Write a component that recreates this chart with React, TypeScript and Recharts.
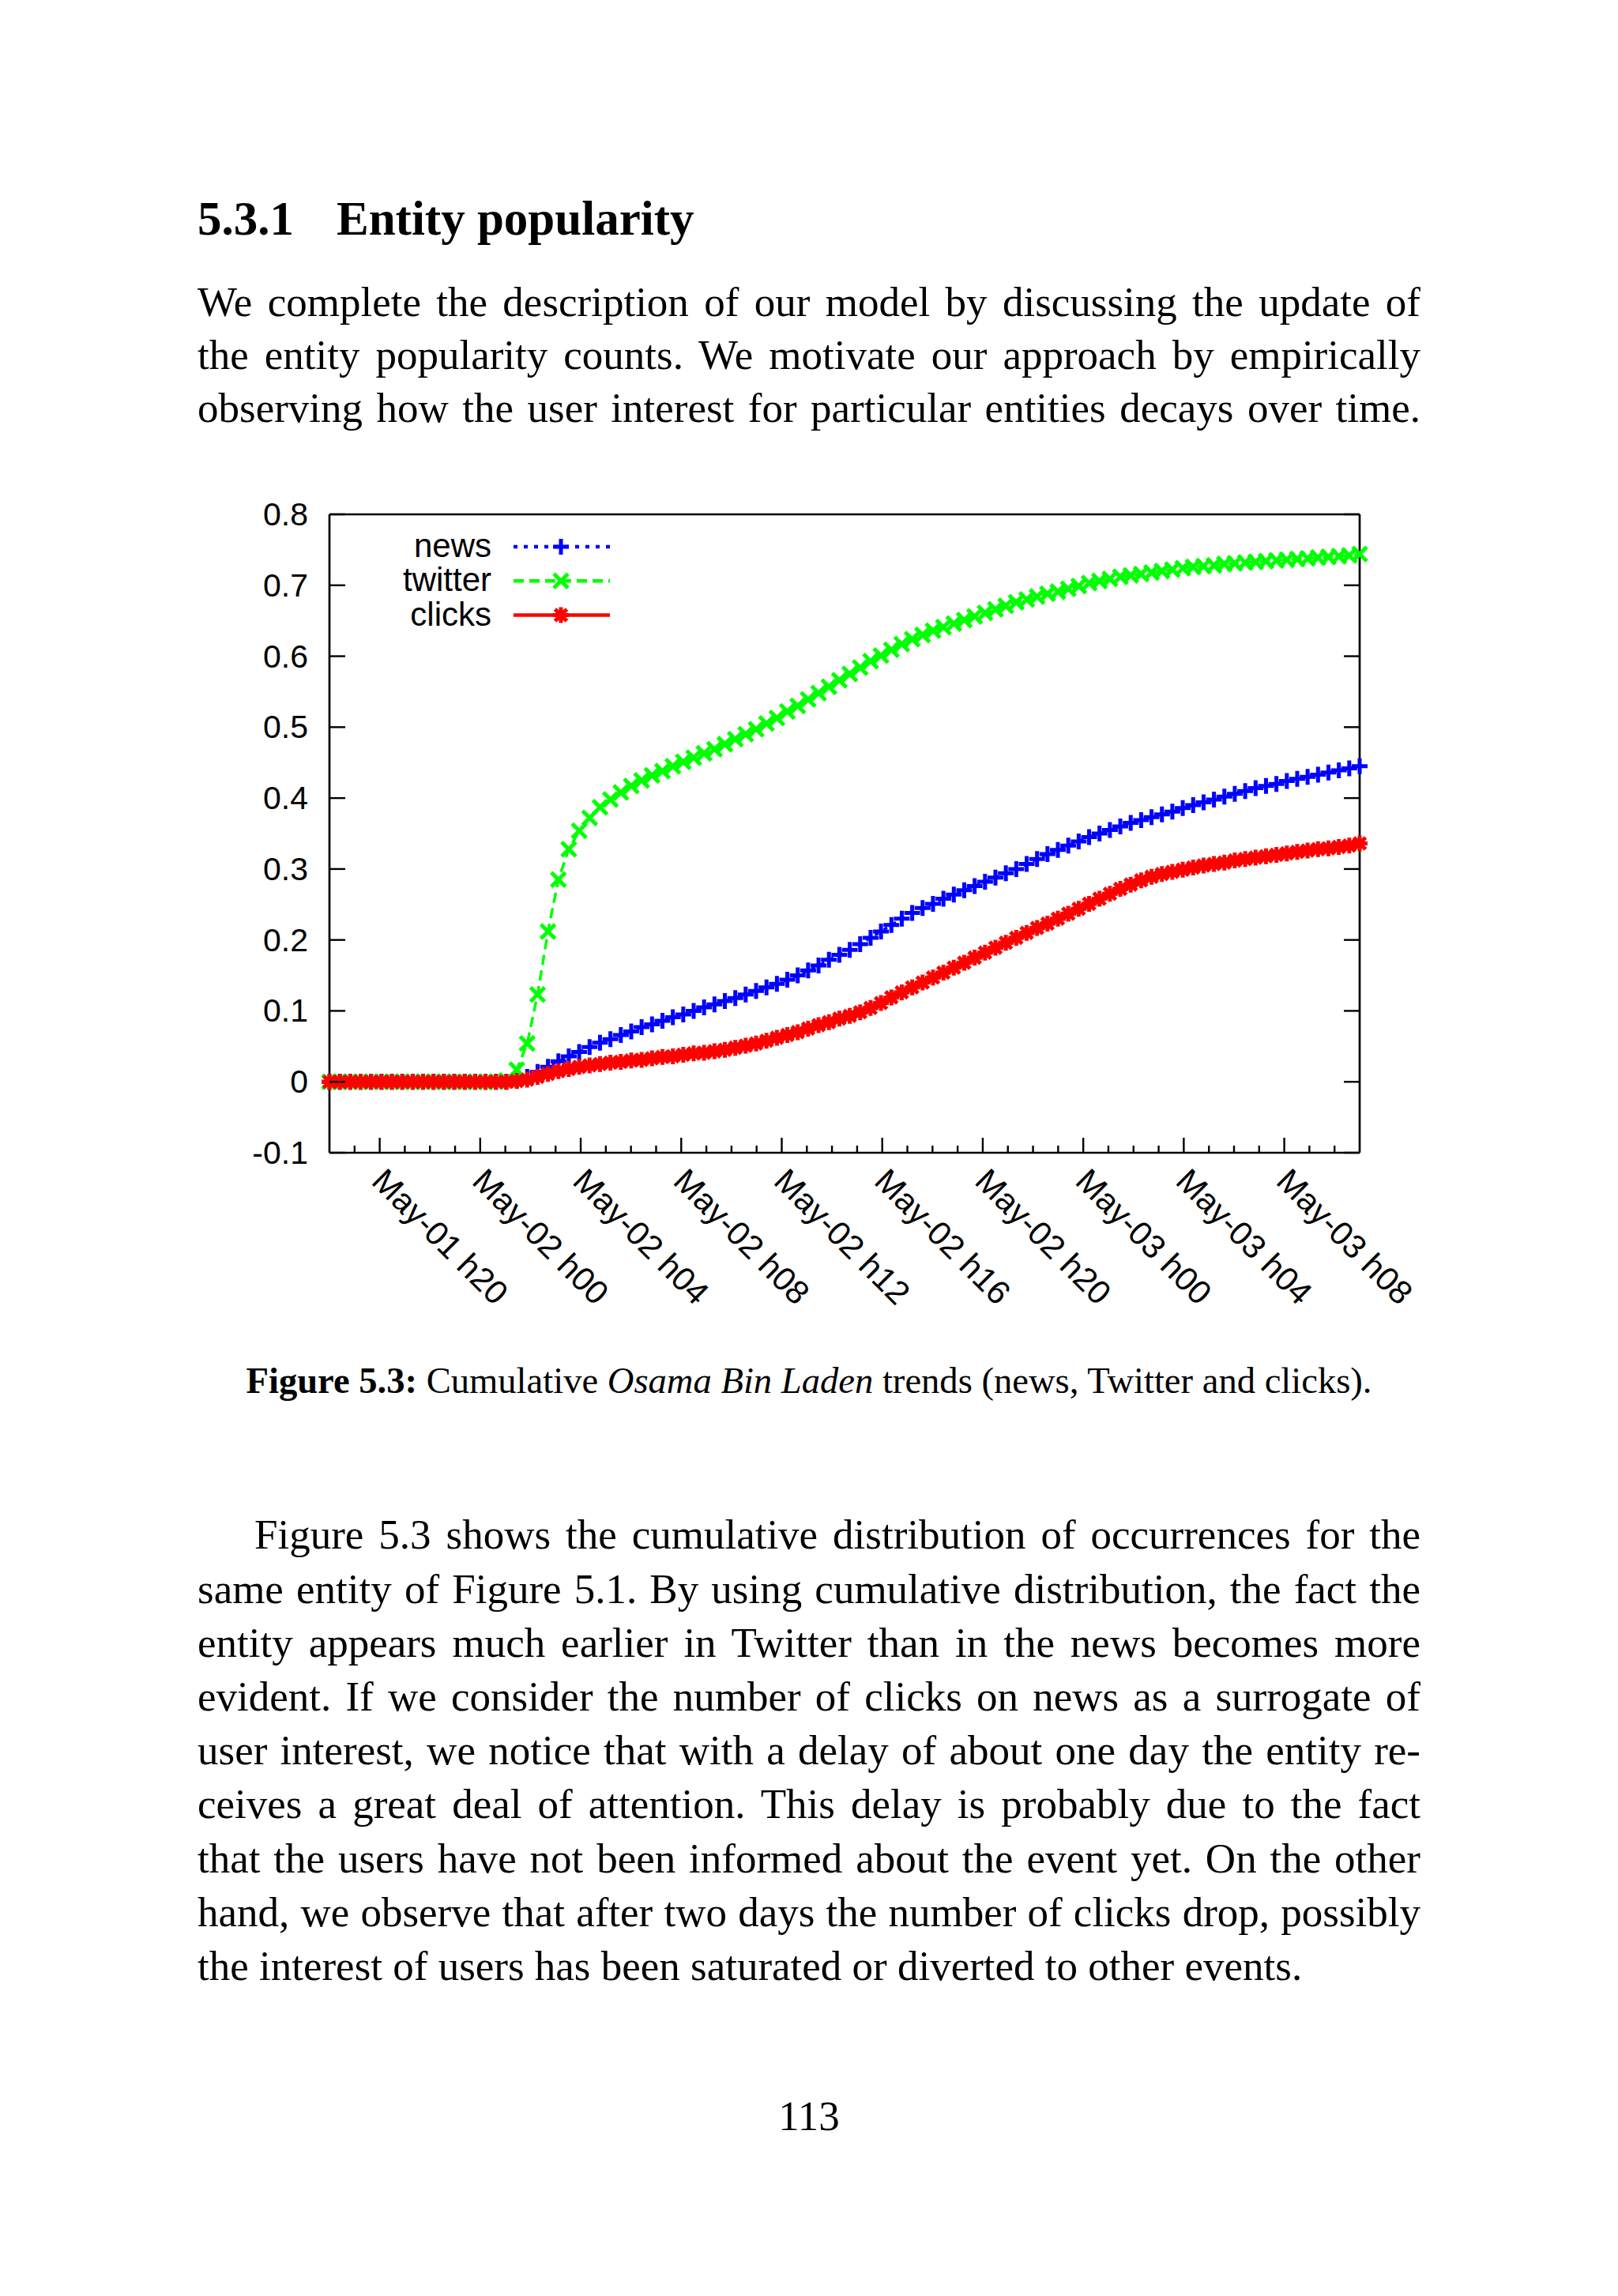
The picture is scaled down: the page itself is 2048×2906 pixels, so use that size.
import { LineChart, Line, XAxis, YAxis, Legend, ReferenceLine } from 'recharts';

// cumulative share of occurrences, one sample every ~25 minutes from May-01 h18 to May-03 h11
const newsValues = [
  0, 0, 0, 0, 0, 0, 0, 0, 0, 0,
  0, 0, 0, 0, 0, 0, 0, 0, 0.002, 0.007,
  0.014, 0.021, 0.029, 0.036, 0.042, 0.049, 0.055, 0.06, 0.066, 0.071,
  0.077, 0.081, 0.086, 0.091, 0.095, 0.1, 0.105, 0.109, 0.114, 0.118,
  0.123, 0.128, 0.133, 0.138, 0.144, 0.15, 0.157, 0.164, 0.172, 0.179,
  0.186, 0.194, 0.203, 0.212, 0.221, 0.23, 0.238, 0.245, 0.251, 0.258,
  0.264, 0.27, 0.276, 0.282, 0.288, 0.294, 0.3, 0.307, 0.314, 0.321,
  0.327, 0.333, 0.339, 0.345, 0.35, 0.355, 0.36, 0.365, 0.369, 0.373,
  0.377, 0.381, 0.386, 0.39, 0.394, 0.398, 0.402, 0.406, 0.41, 0.414,
  0.417, 0.42, 0.424, 0.427, 0.43, 0.433, 0.436, 0.439, 0.442, 0.445,
];

const twitterValues = [
  0, 0, 0, 0, 0, 0, 0, 0, 0, 0,
  0, 0, 0, 0, 0, 0, 0, 0.002, 0.017, 0.054,
  0.123, 0.212, 0.285, 0.328, 0.354, 0.372, 0.387, 0.398, 0.408, 0.417,
  0.425, 0.432, 0.438, 0.445, 0.451, 0.457, 0.463, 0.469, 0.476, 0.483,
  0.49, 0.497, 0.505, 0.513, 0.522, 0.53, 0.539, 0.548, 0.557, 0.566,
  0.575, 0.584, 0.593, 0.601, 0.609, 0.617, 0.624, 0.63, 0.636, 0.641,
  0.646, 0.651, 0.656, 0.661, 0.666, 0.671, 0.676, 0.68, 0.684, 0.688,
  0.691, 0.695, 0.699, 0.703, 0.706, 0.709, 0.712, 0.714, 0.716, 0.718,
  0.72, 0.722, 0.724, 0.726, 0.727, 0.728, 0.73, 0.731, 0.732, 0.733,
  0.734, 0.735, 0.736, 0.737, 0.738, 0.739, 0.74, 0.741, 0.742, 0.744,
];

const clicksValues = [
  0, 0, 0, 0, 0, 0, 0, 0, 0, 0,
  0, 0, 0, 0, 0, 0, 0, 0, 0.001, 0.003,
  0.007, 0.011, 0.015, 0.018, 0.021, 0.023, 0.025, 0.027, 0.028, 0.03,
  0.031, 0.033, 0.035, 0.036, 0.038, 0.04, 0.041, 0.043, 0.045, 0.048,
  0.051, 0.054, 0.058, 0.062, 0.066, 0.07, 0.075, 0.08, 0.084, 0.089,
  0.093, 0.098, 0.104, 0.111, 0.119, 0.126, 0.133, 0.14, 0.147, 0.154,
  0.161, 0.168, 0.175, 0.182, 0.189, 0.196, 0.203, 0.21, 0.217, 0.223,
  0.23, 0.237, 0.244, 0.251, 0.258, 0.265, 0.272, 0.278, 0.284, 0.289,
  0.293, 0.296, 0.299, 0.302, 0.305, 0.307, 0.309, 0.312, 0.314, 0.316,
  0.318, 0.32, 0.322, 0.324, 0.326, 0.328, 0.329, 0.331, 0.333, 0.336,
];

const majorTickLabels = [
  'May-01 h20', 'May-02 h00', 'May-02 h04', 'May-02 h08', 'May-02 h12',
  'May-02 h16', 'May-02 h20', 'May-03 h00', 'May-03 h04', 'May-03 h08',
];
const yTicks = [-0.1, 0, 0.1, 0.2, 0.3, 0.4, 0.5, 0.6, 0.7, 0.8];

const HOURS_SPANNED = 41; // May-01 h18 .. May-03 h11
const LAST_INDEX = newsValues.length - 1;
const FIRST_MAJOR_HOUR = 2;

const xTicks = Array.from({ length: HOURS_SPANNED - 1 }, (_, k) => ((k + 1) * LAST_INDEX) / HOURS_SPANNED);

const rows = newsValues.map((news, i) => ({
  i,
  news,
  twitter: twitterValues[i],
  clicks: clicksValues[i],
}));

const PLOT_W = 1304;
const SANS = '"Liberation Sans", Arial, sans-serif';
const SERIF = '"Liberation Serif", "Times New Roman", serif';
const AXIS_STROKE = 2.7;

type MarkKind = 'plus' | 'cross' | 'star';

const series: { key: string; name: string; color: string; dash?: string; mark: MarkKind }[] = [
  { key: 'news', name: 'news', color: '#0000ff', dash: '5 8', mark: 'plus' },
  { key: 'twitter', name: 'twitter', color: '#00ff00', dash: '13 7', mark: 'cross' },
  { key: 'clicks', name: 'clicks', color: '#ff0000', mark: 'star' },
];

function markPath(kind: MarkKind, cx: number, cy: number) {
  const p = 10;
  const c = 9;
  const plus = `M${cx - p},${cy}H${cx + p}M${cx},${cy - p}V${cy + p}`;
  const cross = `M${cx - c},${cy - c}L${cx + c},${cy + c}M${cx - c},${cy + c}L${cx + c},${cy - c}`;
  if (kind === 'plus') return plus;
  if (kind === 'cross') return cross;
  const s = 7.5;
  return `${plus}M${cx - s},${cy - s}L${cx + s},${cy + s}M${cx - s},${cy + s}L${cx + s},${cy - s}`;
}

function makeDot(kind: MarkKind, color: string) {
  return (props: any) => {
    const { cx, cy, index } = props;
    if (cx == null || cy == null) return <g key={`${kind}-${index}`} />;
    return (
      <path key={`${kind}-${index}`} d={markPath(kind, cx, cy)} stroke={color} strokeWidth={5} fill="none" />
    );
  };
}

function XTick(props: any) {
  const { x, y, payload } = props;
  const h = Math.round((payload.value * HOURS_SPANNED) / LAST_INDEX);
  const major = (h - FIRST_MAJOR_HOUR) % 4 === 0;
  const label = major ? majorTickLabels[(h - FIRST_MAJOR_HOUR) / 4] : null;
  const lx = x - 12;
  const ly = y + 38;
  return (
    <g>
      <line x1={x} x2={x} y1={y} y2={y - (major ? 19 : 9)} stroke="#000" strokeWidth={2.4} />
      {label && (
        <text x={lx} y={ly} transform={`rotate(45 ${lx} ${ly})`} fontFamily={SANS} fontSize={42} fill="#000">
          {label}
        </text>
      )}
    </g>
  );
}

function YTick(props: any) {
  const { x, y, payload } = props;
  const v = payload.value as number;
  const label = v === 0 ? '0' : v.toFixed(1);
  return (
    <g>
      <line x1={x} x2={x + 20} y1={y} y2={y} stroke="#000" strokeWidth={2.4} />
      <line x1={x + PLOT_W - 20} x2={x + PLOT_W} y1={y} y2={y} stroke="#000" strokeWidth={2.4} />
      <text x={x - 27} y={y + 14} textAnchor="end" fontFamily={SANS} fontSize={41} fill="#000">
        {label}
      </text>
    </g>
  );
}

function KeyBox() {
  return (
    <svg width={600} height={250}>
      {series.map((s, k) => {
        const base = 105 + k * 43.3;
        const mid = base - 13;
        return (
          <g key={s.key}>
            <text x={322} y={base} textAnchor="end" fontFamily={SANS} fontSize={42} fill="#000">
              {s.name}
            </text>
            <line x1={350} x2={472} y1={mid} y2={mid} stroke={s.color} strokeWidth={4.5} strokeDasharray={s.dash} />
            <path d={markPath(s.mark, 410, mid)} stroke={s.color} strokeWidth={5} fill="none" />
          </g>
        );
      })}
    </svg>
  );
}

function Chart() {
  return (
    <LineChart width={1550} height={1100} data={rows} margin={{ top: 51, right: 129, bottom: 0, left: 0 }}>
      <XAxis
        dataKey="i"
        type="number"
        domain={[0, LAST_INDEX]}
        ticks={xTicks}
        interval={0}
        tick={<XTick />}
        tickLine={false}
        tickSize={0}
        tickMargin={0}
        height={241}
        axisLine={{ stroke: '#000', strokeWidth: AXIS_STROKE }}
      />
      <YAxis
        type="number"
        domain={[-0.1, 0.8]}
        ticks={yTicks}
        interval={0}
        tick={<YTick />}
        tickLine={false}
        tickSize={0}
        tickMargin={0}
        width={117}
        axisLine={{ stroke: '#000', strokeWidth: AXIS_STROKE }}
      />
      <ReferenceLine y={0.8} stroke="#000" strokeWidth={AXIS_STROKE} />
      <ReferenceLine x={LAST_INDEX} stroke="#000" strokeWidth={AXIS_STROKE} />
      {series.map((s) => (
        <Line
          key={s.key}
          dataKey={s.key}
          name={s.name}
          type="linear"
          stroke={s.color}
          strokeWidth={3.5}
          strokeDasharray={s.dash}
          dot={makeDot(s.mark, s.color)}
          activeDot={false}
          isAnimationActive={false}
        />
      ))}
      <Legend
        layout="horizontal"
        verticalAlign="middle"
        align="center"
        content={() => <KeyBox />}
        wrapperStyle={{ left: 0, top: 0, width: 600, height: 250 }}
      />
    </LineChart>
  );
}

const BODY = 53;
const TEXT_LEFT = 250;
const TEXT_W = 1548;

function TextLine({
  baseline,
  size = BODY,
  left = TEXT_LEFT,
  width = TEXT_W,
  align = 'justify',
  children,
}: {
  baseline: number;
  size?: number;
  left?: number;
  width?: number;
  align?: 'justify' | 'left' | 'center';
  children: any;
}) {
  const lh = size * 1.2;
  return (
    <div
      style={{
        position: 'absolute',
        left,
        top: baseline - 0.9375 * size,
        width,
        height: lh,
        lineHeight: `${lh}px`,
        fontSize: size,
        whiteSpace: 'nowrap',
        textAlign: align,
        textAlignLast: align === 'justify' ? 'justify' : align,
      }}
    >
      {children}
    </div>
  );
}

const introLines = [
  'We complete the description of our model by discussing the update of',
  'the entity popularity counts. We motivate our approach by empirically',
  'observing how the user interest for particular entities decays over time.',
];

const discussionLines = [
  'Figure 5.3 shows the cumulative distribution of occurrences for the',
  'same entity of Figure 5.1. By using cumulative distribution, the fact the',
  'entity appears much earlier in Twitter than in the news becomes more',
  'evident. If we consider the number of clicks on news as a surrogate of',
  'user interest, we notice that with a delay of about one day the entity re-',
  'ceives a great deal of attention. This delay is probably due to the fact',
  'that the users have not been informed about the event yet. On the other',
  'hand, we observe that after two days the number of clicks drop, possibly',
  'the interest of users has been saturated or diverted to other events.',
];

export default function App() {
  return (
    <div
      style={{
        position: 'absolute',
        left: 0,
        top: 0,
        width: 2048,
        height: 2906,
        background: '#fff',
        color: '#000',
        fontFamily: SERIF,
        overflow: 'hidden',
      }}
    >
      <TextLine baseline={297} size={61} left={250} width={170} align="left">
        <b>5.3.1</b>
      </TextLine>
      <TextLine baseline={297} size={61} left={426} width={600} align="left">
        <b>Entity popularity</b>
      </TextLine>

      {introLines.map((t, k) => (
        <TextLine key={k} baseline={401 + k * 67}>
          {t}
        </TextLine>
      ))}

      <div style={{ position: 'absolute', left: 300, top: 600 }}>
        <Chart />
      </div>

      <TextLine baseline={1764} size={46.6} align="center">
        <b>Figure 5.3:</b> Cumulative <i>Osama Bin Laden</i> trends (news, Twitter and clicks).
      </TextLine>

      {discussionLines.map((t, k) => (
        <TextLine
          key={k}
          baseline={1961 + k * 68.2}
          left={k === 0 ? 322 : TEXT_LEFT}
          width={k === 0 ? TEXT_W - 72 : TEXT_W}
          align={k === discussionLines.length - 1 ? 'left' : 'justify'}
        >
          {t}
        </TextLine>
      ))}

      <TextLine baseline={2697} align="center">
        113
      </TextLine>
    </div>
  );
}
